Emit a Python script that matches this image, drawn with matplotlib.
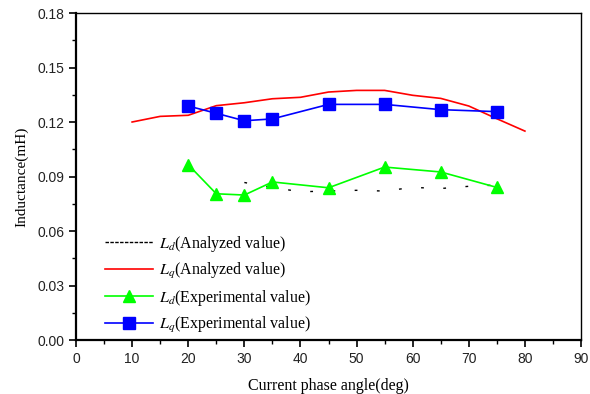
import numpy as np
import matplotlib.pyplot as plt
from matplotlib.lines import Line2D
from matplotlib.ticker import MultipleLocator

plt.rcParams['mathtext.fontset'] = 'stix'

# Lq analyzed
lq_ana_x = [10, 15, 20, 25, 30, 35, 40, 45, 50, 55, 60, 65, 70, 75, 80]
lq_ana_y = [0.1200, 0.1231, 0.1237, 0.1290, 0.1306, 0.1328, 0.1336, 0.1365, 0.1374,
            0.1374, 0.1347, 0.1330, 0.1288, 0.1218, 0.1150]

# Ld analyzed (only fragments visible)
ld_ana_x = [30, 35, 40, 45, 50, 55, 60, 65, 70, 75]
ld_ana_y = [0.0867, 0.0840, 0.0816, 0.0820, 0.0824, 0.0820, 0.0840, 0.0834, 0.0846, 0.0853]

# experimental
exp_x = [20, 25, 30, 35, 45, 55, 65, 75]
ld_exp = [0.0965, 0.0805, 0.0798, 0.0870, 0.0838, 0.0952, 0.0925, 0.0840]
lq_exp = [0.1288, 0.1248, 0.1207, 0.1217, 0.1297, 0.1297, 0.1268, 0.1257]

labels = [r'$L_d$(Analyzed value)', r'$L_q$(Analyzed value)',
          r'$L_d$(Experimental value)', r'$L_q$(Experimental value)']

fig = plt.figure(figsize=(5.9, 3.94), dpi=100)
ax = fig.add_axes([0.1288, 0.137, 0.8560, 0.830])

ax.plot(ld_ana_x, ld_ana_y, color='black', lw=1.0, linestyle=(0, (2, 14)), zorder=2)
l2, = ax.plot(lq_ana_x, lq_ana_y, color='#ff0000', lw=1.2, zorder=3)
l3, = ax.plot(exp_x, ld_exp, color='#00ff00', lw=1.2, marker='^', ms=9, zorder=4)
l4, = ax.plot(exp_x, lq_exp, color='#0000ff', lw=1.2, marker='s', ms=8, zorder=5)
# legend proxy with the denser dash pattern seen in the reference
l1 = Line2D([], [], color='black', lw=1.0, linestyle=(0, (2.5, 1)))

ax.set_xlim(0, 90)
ax.set_ylim(0, 0.18)
ax.xaxis.set_major_locator(MultipleLocator(10))
ax.xaxis.set_minor_locator(MultipleLocator(5))
ax.yaxis.set_major_locator(MultipleLocator(0.03))
ax.yaxis.set_minor_locator(MultipleLocator(0.015))
ax.yaxis.set_major_formatter(plt.FuncFormatter(lambda v, p: '%.2f' % v))

for s in ['left', 'bottom']:
    ax.spines[s].set_linewidth(1.6)
for s in ['top', 'right']:
    ax.spines[s].set_linewidth(1.0)

ax.tick_params(which='major', direction='out', length=5, width=1.2,
               labelsize=10, labelcolor='#222222')
ax.tick_params(which='minor', direction='out', length=3, width=1.0)
for lab in ax.get_xticklabels() + ax.get_yticklabels():
    lab.set_family('Liberation Sans')

ax.set_xlabel('Current phase angle(deg)', family='Liberation Serif', fontsize=11.5, labelpad=9)
ax.set_ylabel('Inductance(mH)', family='Liberation Serif', fontsize=11, labelpad=6)

leg = ax.legend([l1, l2, l3, l4], labels, loc='upper left', bbox_to_anchor=(0.045, 0.345),
                frameon=False, prop={'family': 'Liberation Serif', 'size': 11.5},
                handlelength=3.0, handletextpad=0.4, labelspacing=0.45, borderaxespad=0)

fig.savefig('out.png', dpi=100)
